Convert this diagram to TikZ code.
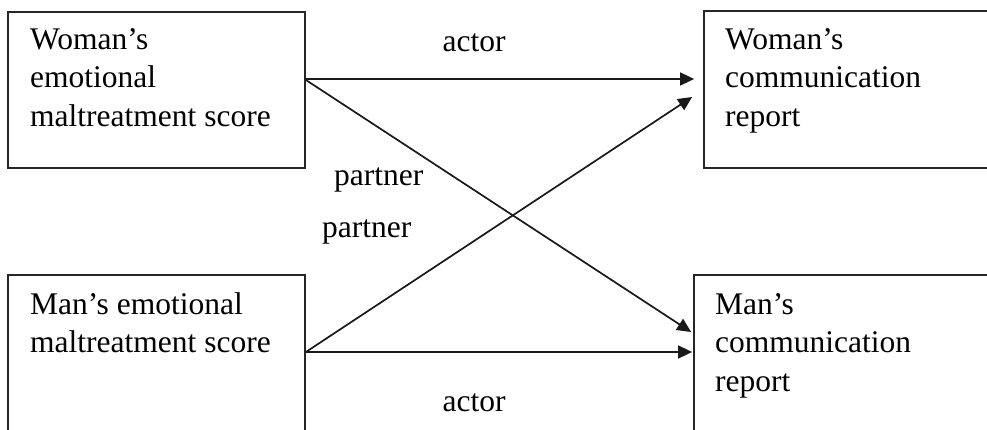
\documentclass[tikz,border=0pt]{standalone}
\usepackage{fontspec}
\setmainfont{Liberation Serif}
\usetikzlibrary{arrows.meta}
\begin{document}
\begin{tikzpicture}[x=1pt,y=-1pt,
  boxnode/.style={draw=black!85,line width=1.8pt,rectangle,inner sep=0pt},
  txt/.style={anchor=north west,inner sep=0pt,align=left,
    font=\fontsize{31.5}{38.5}\selectfont},
  lbl/.style={inner sep=0pt,font=\fontsize{31.5}{38.5}\selectfont},
  conn/.style={draw=black!90,line width=1.7pt,-{Triangle[length=14pt,width=13pt]}}]
\path[use as bounding box,clip] (0,0) rectangle (987,430);
\fill[white] (0,0) rectangle (987,430);
% boxes
\node[boxnode,minimum width=297pt,minimum height=156pt] (tl) at (156.5,90) {};
\node[boxnode,minimum width=296pt,minimum height=157pt] (tr) at (852,89.5) {};
\node[boxnode,minimum width=297pt,minimum height=170pt] (bl) at (156.5,360) {};
\node[boxnode,minimum width=306pt,minimum height=170pt] (br) at (847,360) {};
% texts
\node[txt] (tltext) at (30,25) {\rule{0pt}{24pt}Woman’s\\emotional\\maltreatment score};
\node[txt] (trtext) at (725,25) {\rule{0pt}{24pt}Woman’s\\communication\\report};
\node[txt] (bltext) at (30,290) {\rule{0pt}{24pt}Man’s emotional\\maltreatment score};
\node[txt] (brtext) at (715,290) {\rule{0pt}{24pt}Man’s\\communication\\report};
% labels
\node[lbl,anchor=base] (actor1) at (474,52) {actor};
\node[lbl,anchor=base] (actor2) at (474,411) {actor};
\node[lbl,anchor=base west] (partner1) at (334,186) {partner};
\node[lbl,anchor=base west] (partner2) at (322,238) {partner};
% connectors
\draw[conn] ([yshift=11pt]tl.east) -- ([xshift=-9pt,yshift=10.5pt]tr.west);
\draw[conn] ([yshift=10pt]tl.east) -- ([xshift=-2pt,yshift=28pt]br.west);
\draw[conn] ([yshift=8pt]bl.east) -- ([xshift=-1pt,yshift=8pt]br.west);
\draw[conn] ([yshift=8pt]bl.east) -- ([xshift=-11pt,yshift=-7.5pt]tr.west);
\end{tikzpicture}
\end{document}
